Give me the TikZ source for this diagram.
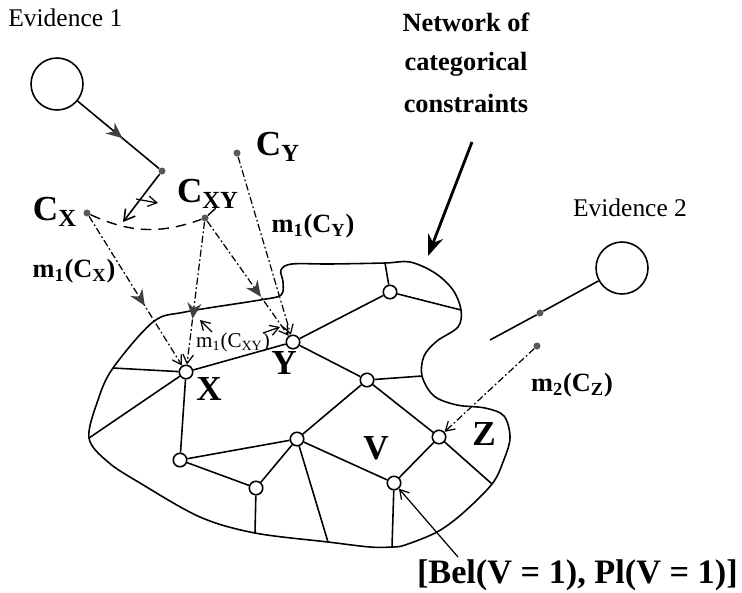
\documentclass[tikz,border=0pt]{standalone}
\usepackage{fontspec}
\setmainfont{Liberation Serif}
\usetikzlibrary{arrows.meta, decorations.markings, positioning}

\begin{document}
\begin{tikzpicture}[
  x=0.02cm, y=-0.02cm,
  var/.style={draw, circle, fill=white, line width=0.9pt, inner sep=0pt, minimum size=0.27cm},
  dot/.style={circle, fill=black!65, inner sep=0pt, minimum size=0.14cm},
  src/.style={draw, circle, line width=0.9pt, inner sep=0pt, minimum size=1.04cm},
  link/.style={line width=0.9pt},
  msg/.style={line width=0.7pt, dash pattern=on 4pt off 1.5pt on 1pt off 1.5pt, -{Straight Barb[length=5pt,width=6pt]}},
  thinarr/.style={line width=0.7pt, -{Straight Barb[length=5pt,width=6pt]}},
  midarr/.style={postaction={decorate}, decoration={markings, mark=at position #1 with {\arrow[solid, black!75]{Stealth[length=9pt,width=8pt]}}}},
  bigarr/.style={line width=1.6pt, -{Stealth[length=12pt,width=9pt]}},
  lbl/.style={font=\fontsize{20}{22}\selectfont\bfseries, inner sep=0pt},
  mlbl/.style={font=\fontsize{15}{17}\selectfont\bfseries, inner sep=0pt},
  txt/.style={font=\fontsize{14.5}{17}\selectfont, inner sep=0pt}
]
  \useasboundingbox (0,0) rectangle (742,592);

  % Texts
  \node[txt, anchor=west] (ev1) at (8,18) {Evidence 1};
  \node[txt] (ev2) at (630,208) {Evidence 2};
  \node[txt, font=\fontsize{15}{20}\selectfont\bfseries, align=center] (nettxt) at (466,63) {Network of\\[2pt] categorical\\[4pt] constraints};
  \node[lbl, font=\fontsize{19.5}{22}\selectfont\bfseries, anchor=east] (bel) at (738,575) {[Bel(V = 1), Pl(V = 1)]};

  % Evidence sources
  \node[src] (e1) at (57,84) {};
  \node[src] (e2) at (622,268) {};
  \node[dot] (d1) at (162,171) {};
  \node[dot] (d2) at (540,313) {};
  \node[dot] (cx) at (87,213) {};
  \node[dot] (cxy) at (205,218) {};
  \node[dot] (cy) at (237,153) {};
  \node[dot] (cz) at (537,346) {};
  \coordinate (e1tip) at (123,222);
  \coordinate (e2end) at (490,340);
  \coordinate (sw1) at (136,199);
  \coordinate (sw2) at (158,203);
  \coordinate (arcend) at (216,208);

  \node[lbl] (lcx) at (55,212) {C\textsubscript{X}};
  \node[lbl] (lcxy) at (208,194) {C\textsubscript{XY}};
  \node[lbl] (lcy) at (278,147) {C\textsubscript{Y}};

  % Boundary points met by edges
  \coordinate (b1) at (89,438);
  \coordinate (b2) at (113,368);
  \coordinate (b3) at (385,263);
  \coordinate (b4) at (461,310);
  \coordinate (b5) at (422,376);
  \coordinate (b6) at (492,484);
  \coordinate (b7) at (392,547);
  \coordinate (b8) at (328,542);
  \coordinate (b9) at (255,533);

  \draw[link] plot[smooth cycle, tension=0.55] coordinates {(b1) (98,400) (b2) (153,322) (185,312) (260,300) (281,295) (283,282) (281,270) (292,264) (330,264) (b3) (410,262) (435,273) (453,290) (b4) (458,327) (437,341) (424,356) (b5) (434,396) (457,405) (485,408) (504,416) (510,438) (503,462) (b6) (463,513) (437,532) (405,545) (b7) (370,547) (b8) (b9) (200,517) (140,483) (108,462)};

  % Variables
  \node[var] (X) at (186,372) {};
  \node[var] (Y) at (293,342) {};
  \node[var] (n1) at (390,292) {};
  \node[var] (n2) at (367,380) {};
  \node[var] (n3) at (297,439) {};
  \node[var] (Z) at (439,437) {};
  \node[var] (V) at (394,483) {};
  \node[var] (n4) at (180,460) {};
  \node[var] (n5) at (256,488) {};

  \node[lbl] (lx) at (209,389) {X};
  \node[lbl] (ly) at (284,363) {Y};
  \node[lbl] (lv) at (376,448) {V};
  \node[lbl] (lz) at (484,434) {Z};

  % Edges
  \draw[link] (X) -- (Y);
  \draw[link] (X) -- (b2);
  \draw[link] (X) -- (b1);
  \draw[link] (X) -- (n4);
  \draw[link] (Y) -- (n1);
  \draw[link] (Y) -- (n2);
  \draw[link] (n1) -- (b3);
  \draw[link] (n1) -- (b4);
  \draw[link] (n2) -- (b5);
  \draw[link] (n2) -- (n3);
  \draw[link] (n2) -- (Z);
  \draw[link] (n4) -- (n3);
  \draw[link] (n4) -- (n5);
  \draw[link] (n5) -- (n3);
  \draw[link] (n5) -- (b9);
  \draw[link] (n3) -- (b8);
  \draw[link] (n3) -- (V);
  \draw[link] (V) -- (Z);
  \draw[link] (V) -- (b7);
  \draw[link] (Z) -- (b6);

  % Evidence lines
  \draw[link, midarr=0.55] (e1) -- (d1);
  \draw[link, -{Straight Barb[length=6pt,width=7pt]}] (d1) -- (e1tip);
  \draw[thinarr] (sw1) -- (sw2);
  \draw[line width=0.8pt, dash pattern=on 6pt off 4pt] (cx) to[out=-25, in=200] (cxy) -- (arcend);
  \draw[link] (e2) -- (d2) -- (e2end);

  % Messages
  \draw[msg, midarr=0.6] (cx) -- (X);
  \draw[msg, midarr=0.68] (cxy) -- (X);
  \draw[msg, midarr=0.66] (cxy) -- (Y);
  \draw[msg] (cy) -- (Y);
  \draw[msg] (cz) -- (Z);

  \node[mlbl] (mcx) at (74,271) {m\textsubscript{1}(C\textsubscript{X})};
  \node[mlbl] (mcy) at (313,226) {m\textsubscript{1}(C\textsubscript{Y})};
  \node[mlbl] (mcz) at (572,385) {m\textsubscript{2}(C\textsubscript{Z})};
  \node[font=\fontsize{12}{14}\selectfont, inner sep=0pt] (mcxy) at (233,342) {m\textsubscript{1}(C\textsubscript{XY})};
  \coordinate (ma1) at (212,332);
  \coordinate (ma2) at (200,320);
  \coordinate (ma3) at (263,333);
  \coordinate (ma4) at (280,327);
  \draw[thinarr] (ma1) -- (ma2);
  \draw[thinarr] (ma3) -- (ma4);

  % Pointers
  \coordinate (na1) at (472,142);
  \coordinate (na2) at (428,256);
  \draw[bigarr] (na1) -- (na2);
  \coordinate (bel1) at (458,557);
  \draw[thinarr] (bel1) -- (V);
\end{tikzpicture}
\end{document}
